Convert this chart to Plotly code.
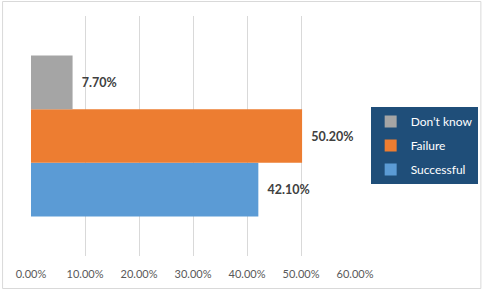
import plotly.graph_objects as go

category = ["Response"]
series_names = ["Successful", "Failure", "Don\u2019t know"]
series_values = [[0.421], [0.502], [0.077]]
series_colors = ["#5B9BD5", "#ED7D31", "#A5A5A5"]
legend_ranks = [3, 2, 1]
x_ticks = [0, 0.1, 0.2, 0.3, 0.4, 0.5, 0.6]

W, H = 484, 291
ml, mr, mt, mb = 30.5, 128.7, 16, 35
pw, ph = W - ml - mr, H - mt - mb

fig = go.Figure()
for name, vals, col, rank in zip(series_names, series_values, series_colors, legend_ranks):
    fig.add_trace(go.Bar(
        y=category, x=vals, name=name, orientation="h",
        marker=dict(color=col, line=dict(width=0)),
        texttemplate="  %{x:.2%}", textposition="outside",
        textfont=dict(family="Lato", size=12.5, color="#404040", weight="bold"),
        cliponaxis=False, legendgroup=name, legendrank=rank,
    ))

def px_x(p):
    return (p - ml) / pw

def px_y(p):
    return (H - mb - p) / ph

fig.update_layout(
    width=W, height=H,
    margin=dict(l=ml, r=mr, t=mt, b=mb, autoexpand=False),
    paper_bgcolor="white", plot_bgcolor="white",
    barmode="group", bargap=0.33, bargroupgap=0,
    font=dict(family="Lato", size=11, color="#595959"),
    showlegend=True,
    legend=dict(
        x=px_x(371), y=px_y(107), xanchor="left", yanchor="top",
        bgcolor="#1F4E79", font=dict(color="white", size=12, family="Lato"),
        traceorder="grouped", tracegroupgap=5,
        borderwidth=0,
    ),
    xaxis=dict(
        range=[0, 0.6], tickvals=x_ticks, tickformat=".2%",
        showgrid=True, gridcolor="#D9D9D9", gridwidth=1,
        zeroline=False, showline=False,
        ticks="outside", ticklen=8, tickcolor="rgba(0,0,0,0)",
    ),
    yaxis=dict(
        range=[-0.5, 0.5], showticklabels=False, showgrid=False,
        zeroline=False, showline=False,
    ),
    shapes=[dict(
        type="rect", xref="paper", yref="paper",
        x0=px_x(2), x1=px_x(481.5), y0=px_y(288.5), y1=px_y(1.5),
        line=dict(color="#D9D9D9", width=1), fillcolor="rgba(0,0,0,0)",
        layer="below",
    )],
)

fig.write_html("out.html")
